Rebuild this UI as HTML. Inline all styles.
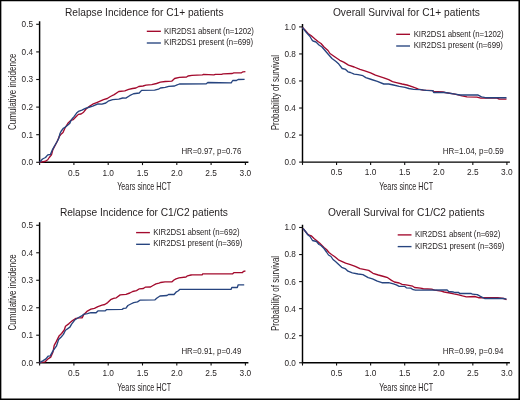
<!DOCTYPE html>
<html><head><meta charset="utf-8"><style>
html,body{margin:0;padding:0;background:#fff;}
svg{display:block;will-change:transform;}
text{font-family:"Liberation Sans",sans-serif;fill:#231f20;stroke:#231f20;stroke-width:0px;}
</style></head><body>
<svg width="520" height="400" viewBox="0 0 520 400">
<rect x="0" y="0" width="520" height="400" fill="#fff"/>
<path d="M39.6,21.3 V162.3 H248.4" fill="none" stroke="#000" stroke-width="1.45"/>
<line x1="36.2" y1="162.3" x2="39.6" y2="162.3" stroke="#111" stroke-width="1.1"/>
<line x1="36.2" y1="134.70" x2="39.6" y2="134.70" stroke="#111" stroke-width="1.1"/>
<line x1="36.2" y1="107.10" x2="39.6" y2="107.10" stroke="#111" stroke-width="1.1"/>
<line x1="36.2" y1="79.5" x2="39.6" y2="79.5" stroke="#111" stroke-width="1.1"/>
<line x1="36.2" y1="51.90" x2="39.6" y2="51.90" stroke="#111" stroke-width="1.1"/>
<line x1="36.2" y1="24.30" x2="39.6" y2="24.30" stroke="#111" stroke-width="1.1"/>
<line x1="39.6" y1="162.3" x2="39.6" y2="165.10" stroke="#111" stroke-width="1.1"/>
<line x1="73.9" y1="162.3" x2="73.9" y2="165.10" stroke="#111" stroke-width="1.1"/>
<line x1="108.20" y1="162.3" x2="108.20" y2="165.10" stroke="#111" stroke-width="1.1"/>
<line x1="142.5" y1="162.3" x2="142.5" y2="165.10" stroke="#111" stroke-width="1.1"/>
<line x1="176.8" y1="162.3" x2="176.8" y2="165.10" stroke="#111" stroke-width="1.1"/>
<line x1="211.10" y1="162.3" x2="211.10" y2="165.10" stroke="#111" stroke-width="1.1"/>
<line x1="245.4" y1="162.3" x2="245.4" y2="165.10" stroke="#111" stroke-width="1.1"/>
<text x="33.0" y="165.20" text-anchor="end" font-size="8.2">0.0</text>
<text x="33.0" y="137.60" text-anchor="end" font-size="8.2">0.1</text>
<text x="33.0" y="110.00" text-anchor="end" font-size="8.2">0.2</text>
<text x="33.0" y="82.4" text-anchor="end" font-size="8.2">0.3</text>
<text x="33.0" y="54.80" text-anchor="end" font-size="8.2">0.4</text>
<text x="33.0" y="27.20" text-anchor="end" font-size="8.2">0.5</text>
<text x="73.9" y="175.60" text-anchor="middle" font-size="9.3" textLength="11.6" lengthAdjust="spacingAndGlyphs">0.5</text>
<text x="108.20" y="175.60" text-anchor="middle" font-size="9.3" textLength="11.6" lengthAdjust="spacingAndGlyphs">1.0</text>
<text x="142.5" y="175.60" text-anchor="middle" font-size="9.3" textLength="11.6" lengthAdjust="spacingAndGlyphs">1.5</text>
<text x="176.8" y="175.60" text-anchor="middle" font-size="9.3" textLength="11.6" lengthAdjust="spacingAndGlyphs">2.0</text>
<text x="211.10" y="175.60" text-anchor="middle" font-size="9.3" textLength="11.6" lengthAdjust="spacingAndGlyphs">2.5</text>
<text x="245.4" y="175.60" text-anchor="middle" font-size="9.3" textLength="11.6" lengthAdjust="spacingAndGlyphs">3.0</text>
<path d="M302.5,24.0 V162.1 H509.9" fill="none" stroke="#000" stroke-width="1.45"/>
<line x1="299.1" y1="162.1" x2="302.5" y2="162.1" stroke="#111" stroke-width="1.1"/>
<line x1="299.1" y1="135.06" x2="302.5" y2="135.06" stroke="#111" stroke-width="1.1"/>
<line x1="299.1" y1="108.02" x2="302.5" y2="108.02" stroke="#111" stroke-width="1.1"/>
<line x1="299.1" y1="80.97" x2="302.5" y2="80.97" stroke="#111" stroke-width="1.1"/>
<line x1="299.1" y1="53.94" x2="302.5" y2="53.94" stroke="#111" stroke-width="1.1"/>
<line x1="299.1" y1="26.90" x2="302.5" y2="26.90" stroke="#111" stroke-width="1.1"/>
<line x1="302.5" y1="162.1" x2="302.5" y2="164.9" stroke="#111" stroke-width="1.1"/>
<line x1="336.56" y1="162.1" x2="336.56" y2="164.9" stroke="#111" stroke-width="1.1"/>
<line x1="370.63" y1="162.1" x2="370.63" y2="164.9" stroke="#111" stroke-width="1.1"/>
<line x1="404.7" y1="162.1" x2="404.7" y2="164.9" stroke="#111" stroke-width="1.1"/>
<line x1="438.76" y1="162.1" x2="438.76" y2="164.9" stroke="#111" stroke-width="1.1"/>
<line x1="472.83" y1="162.1" x2="472.83" y2="164.9" stroke="#111" stroke-width="1.1"/>
<line x1="506.9" y1="162.1" x2="506.9" y2="164.9" stroke="#111" stroke-width="1.1"/>
<text x="295.9" y="165.0" text-anchor="end" font-size="8.2">0.0</text>
<text x="295.9" y="137.96" text-anchor="end" font-size="8.2">0.2</text>
<text x="295.9" y="110.92" text-anchor="end" font-size="8.2">0.4</text>
<text x="295.9" y="83.88" text-anchor="end" font-size="8.2">0.6</text>
<text x="295.9" y="56.83" text-anchor="end" font-size="8.2">0.8</text>
<text x="295.9" y="29.80" text-anchor="end" font-size="8.2">1.0</text>
<text x="336.56" y="175.0" text-anchor="middle" font-size="9.3" textLength="11.6" lengthAdjust="spacingAndGlyphs">0.5</text>
<text x="370.63" y="175.0" text-anchor="middle" font-size="9.3" textLength="11.6" lengthAdjust="spacingAndGlyphs">1.0</text>
<text x="404.7" y="175.0" text-anchor="middle" font-size="9.3" textLength="11.6" lengthAdjust="spacingAndGlyphs">1.5</text>
<text x="438.76" y="175.0" text-anchor="middle" font-size="9.3" textLength="11.6" lengthAdjust="spacingAndGlyphs">2.0</text>
<text x="472.83" y="175.0" text-anchor="middle" font-size="9.3" textLength="11.6" lengthAdjust="spacingAndGlyphs">2.5</text>
<text x="506.9" y="175.0" text-anchor="middle" font-size="9.3" textLength="11.6" lengthAdjust="spacingAndGlyphs">3.0</text>
<path d="M39.6,222.3 V362.7 H248.4" fill="none" stroke="#000" stroke-width="1.45"/>
<line x1="36.2" y1="362.7" x2="39.6" y2="362.7" stroke="#111" stroke-width="1.1"/>
<line x1="36.2" y1="335.21" x2="39.6" y2="335.21" stroke="#111" stroke-width="1.1"/>
<line x1="36.2" y1="307.74" x2="39.6" y2="307.74" stroke="#111" stroke-width="1.1"/>
<line x1="36.2" y1="280.26" x2="39.6" y2="280.26" stroke="#111" stroke-width="1.1"/>
<line x1="36.2" y1="252.78" x2="39.6" y2="252.78" stroke="#111" stroke-width="1.1"/>
<line x1="36.2" y1="225.3" x2="39.6" y2="225.3" stroke="#111" stroke-width="1.1"/>
<line x1="39.6" y1="362.7" x2="39.6" y2="365.5" stroke="#111" stroke-width="1.1"/>
<line x1="73.9" y1="362.7" x2="73.9" y2="365.5" stroke="#111" stroke-width="1.1"/>
<line x1="108.20" y1="362.7" x2="108.20" y2="365.5" stroke="#111" stroke-width="1.1"/>
<line x1="142.5" y1="362.7" x2="142.5" y2="365.5" stroke="#111" stroke-width="1.1"/>
<line x1="176.8" y1="362.7" x2="176.8" y2="365.5" stroke="#111" stroke-width="1.1"/>
<line x1="211.10" y1="362.7" x2="211.10" y2="365.5" stroke="#111" stroke-width="1.1"/>
<line x1="245.4" y1="362.7" x2="245.4" y2="365.5" stroke="#111" stroke-width="1.1"/>
<text x="33.0" y="365.59" text-anchor="end" font-size="8.2">0.0</text>
<text x="33.0" y="338.11" text-anchor="end" font-size="8.2">0.1</text>
<text x="33.0" y="310.64" text-anchor="end" font-size="8.2">0.2</text>
<text x="33.0" y="283.15" text-anchor="end" font-size="8.2">0.3</text>
<text x="33.0" y="255.68" text-anchor="end" font-size="8.2">0.4</text>
<text x="33.0" y="228.20" text-anchor="end" font-size="8.2">0.5</text>
<text x="73.9" y="376.0" text-anchor="middle" font-size="9.3" textLength="11.6" lengthAdjust="spacingAndGlyphs">0.5</text>
<text x="108.20" y="376.0" text-anchor="middle" font-size="9.3" textLength="11.6" lengthAdjust="spacingAndGlyphs">1.0</text>
<text x="142.5" y="376.0" text-anchor="middle" font-size="9.3" textLength="11.6" lengthAdjust="spacingAndGlyphs">1.5</text>
<text x="176.8" y="376.0" text-anchor="middle" font-size="9.3" textLength="11.6" lengthAdjust="spacingAndGlyphs">2.0</text>
<text x="211.10" y="376.0" text-anchor="middle" font-size="9.3" textLength="11.6" lengthAdjust="spacingAndGlyphs">2.5</text>
<text x="245.4" y="376.0" text-anchor="middle" font-size="9.3" textLength="11.6" lengthAdjust="spacingAndGlyphs">3.0</text>
<path d="M302.5,224.75 V362.75 H509.9" fill="none" stroke="#000" stroke-width="1.45"/>
<line x1="299.1" y1="362.75" x2="302.5" y2="362.75" stroke="#111" stroke-width="1.1"/>
<line x1="299.1" y1="335.7" x2="302.5" y2="335.7" stroke="#111" stroke-width="1.1"/>
<line x1="299.1" y1="308.65" x2="302.5" y2="308.65" stroke="#111" stroke-width="1.1"/>
<line x1="299.1" y1="281.6" x2="302.5" y2="281.6" stroke="#111" stroke-width="1.1"/>
<line x1="299.1" y1="254.55" x2="302.5" y2="254.55" stroke="#111" stroke-width="1.1"/>
<line x1="299.1" y1="227.5" x2="302.5" y2="227.5" stroke="#111" stroke-width="1.1"/>
<line x1="302.5" y1="362.75" x2="302.5" y2="365.55" stroke="#111" stroke-width="1.1"/>
<line x1="336.56" y1="362.75" x2="336.56" y2="365.55" stroke="#111" stroke-width="1.1"/>
<line x1="370.63" y1="362.75" x2="370.63" y2="365.55" stroke="#111" stroke-width="1.1"/>
<line x1="404.7" y1="362.75" x2="404.7" y2="365.55" stroke="#111" stroke-width="1.1"/>
<line x1="438.76" y1="362.75" x2="438.76" y2="365.55" stroke="#111" stroke-width="1.1"/>
<line x1="472.83" y1="362.75" x2="472.83" y2="365.55" stroke="#111" stroke-width="1.1"/>
<line x1="506.9" y1="362.75" x2="506.9" y2="365.55" stroke="#111" stroke-width="1.1"/>
<text x="295.9" y="365.65" text-anchor="end" font-size="8.2">0.0</text>
<text x="295.9" y="338.59" text-anchor="end" font-size="8.2">0.2</text>
<text x="295.9" y="311.54" text-anchor="end" font-size="8.2">0.4</text>
<text x="295.9" y="284.5" text-anchor="end" font-size="8.2">0.6</text>
<text x="295.9" y="257.45" text-anchor="end" font-size="8.2">0.8</text>
<text x="295.9" y="230.4" text-anchor="end" font-size="8.2">1.0</text>
<text x="336.56" y="375.65" text-anchor="middle" font-size="9.3" textLength="11.6" lengthAdjust="spacingAndGlyphs">0.5</text>
<text x="370.63" y="375.65" text-anchor="middle" font-size="9.3" textLength="11.6" lengthAdjust="spacingAndGlyphs">1.0</text>
<text x="404.7" y="375.65" text-anchor="middle" font-size="9.3" textLength="11.6" lengthAdjust="spacingAndGlyphs">1.5</text>
<text x="438.76" y="375.65" text-anchor="middle" font-size="9.3" textLength="11.6" lengthAdjust="spacingAndGlyphs">2.0</text>
<text x="472.83" y="375.65" text-anchor="middle" font-size="9.3" textLength="11.6" lengthAdjust="spacingAndGlyphs">2.5</text>
<text x="506.9" y="375.65" text-anchor="middle" font-size="9.3" textLength="11.6" lengthAdjust="spacingAndGlyphs">3.0</text>
<text x="65.0" y="15.6" font-size="10.2" text-anchor="start" textLength="158.5" lengthAdjust="spacing">Relapse Incidence for C1+ patients</text>
<text x="332.9" y="15.6" font-size="10.2" text-anchor="start" textLength="147" lengthAdjust="spacing">Overall Survival for C1+ patients</text>
<text x="59.9" y="216.2" font-size="10.2" text-anchor="start" textLength="168" lengthAdjust="spacing">Relapse Incidence for C1/C2 patients</text>
<text x="328.1" y="216.4" font-size="10.2" text-anchor="start" textLength="156.5" lengthAdjust="spacing">Overall Survival for C1/C2 patients</text>
<line x1="146.8" y1="31.3" x2="160.9" y2="31.3" stroke="#a30a2d" stroke-width="1.35"/>
<line x1="146.8" y1="43.0" x2="160.9" y2="43.0" stroke="#26447f" stroke-width="1.35"/>
<text transform="translate(164.0,33.9) scale(1,1.12)" x="0" y="0" font-size="7.85" text-anchor="start" textLength="90" lengthAdjust="spacing">KIR2DS1 absent (n=1202)</text>
<text transform="translate(164.0,45.4) scale(1,1.12)" x="0" y="0" font-size="7.85" text-anchor="start" textLength="89.2" lengthAdjust="spacing">KIR2DS1 present (n=699)</text>
<line x1="396.2" y1="34.3" x2="410.0" y2="34.3" stroke="#a30a2d" stroke-width="1.35"/>
<line x1="396.2" y1="46.0" x2="410.0" y2="46.0" stroke="#26447f" stroke-width="1.35"/>
<text transform="translate(413.7,36.9) scale(1,1.12)" x="0" y="0" font-size="7.85" text-anchor="start" textLength="90" lengthAdjust="spacing">KIR2DS1 absent (n=1202)</text>
<text transform="translate(413.7,48.4) scale(1,1.12)" x="0" y="0" font-size="7.85" text-anchor="start" textLength="89.2" lengthAdjust="spacing">KIR2DS1 present (n=699)</text>
<line x1="136.1" y1="232.6" x2="149.9" y2="232.6" stroke="#a30a2d" stroke-width="1.35"/>
<line x1="136.1" y1="244.3" x2="149.9" y2="244.3" stroke="#26447f" stroke-width="1.35"/>
<text transform="translate(153.3,234.9) scale(1,1.12)" x="0" y="0" font-size="7.85" text-anchor="start" textLength="86.3" lengthAdjust="spacing">KIR2DS1 absent (n=692)</text>
<text transform="translate(153.3,246.4) scale(1,1.12)" x="0" y="0" font-size="7.85" text-anchor="start" textLength="89" lengthAdjust="spacing">KIR2DS1 present (n=369)</text>
<line x1="397.7" y1="234.9" x2="411.5" y2="234.9" stroke="#a30a2d" stroke-width="1.35"/>
<line x1="397.7" y1="246.6" x2="411.5" y2="246.6" stroke="#26447f" stroke-width="1.35"/>
<text transform="translate(414.9,237.3) scale(1,1.12)" x="0" y="0" font-size="7.85" text-anchor="start" textLength="85.6" lengthAdjust="spacing">KIR2DS1 absent (n=692)</text>
<text transform="translate(414.9,248.8) scale(1,1.12)" x="0" y="0" font-size="7.85" text-anchor="start" textLength="89.5" lengthAdjust="spacing">KIR2DS1 present (n=369)</text>
<text x="181.4" y="153.8" font-size="8.8" text-anchor="start" textLength="60" lengthAdjust="spacingAndGlyphs">HR=0.97, p=0.76</text>
<text x="442.8" y="153.8" font-size="8.8" text-anchor="start" textLength="61" lengthAdjust="spacingAndGlyphs">HR=1.04, p=0.59</text>
<text x="181.4" y="354.2" font-size="8.8" text-anchor="start" textLength="60" lengthAdjust="spacingAndGlyphs">HR=0.91, p=0.49</text>
<text x="442.8" y="354.2" font-size="8.8" text-anchor="start" textLength="60.7" lengthAdjust="spacingAndGlyphs">HR=0.99, p=0.94</text>
<text x="117.2" y="189.7" font-size="10.2" text-anchor="start" textLength="54" lengthAdjust="spacingAndGlyphs">Years since HCT</text>
<text x="379.2" y="189.7" font-size="10.2" text-anchor="start" textLength="54" lengthAdjust="spacingAndGlyphs">Years since HCT</text>
<text x="117.2" y="390.6" font-size="10.2" text-anchor="start" textLength="54" lengthAdjust="spacingAndGlyphs">Years since HCT</text>
<text x="379.2" y="390.6" font-size="10.2" text-anchor="start" textLength="54" lengthAdjust="spacingAndGlyphs">Years since HCT</text>
<text transform="translate(16.3,130.1) rotate(-90)" x="0" y="0" font-size="10.8" textLength="76.5" lengthAdjust="spacingAndGlyphs">Cumulative incidence</text>
<text transform="translate(16.3,330.5) rotate(-90)" x="0" y="0" font-size="10.8" textLength="76.1" lengthAdjust="spacingAndGlyphs">Cumulative incidence</text>
<text transform="translate(278.9,130.3) rotate(-90)" x="0" y="0" font-size="10.8" textLength="75.20" lengthAdjust="spacingAndGlyphs">Probability of survival</text>
<text transform="translate(278.9,331) rotate(-90)" x="0" y="0" font-size="10.8" textLength="75.1" lengthAdjust="spacingAndGlyphs">Probability of survival</text>
<polyline points="39.6,162.3 45.5,161.25 47.75,159.75 49.25,157.5 51.5,154.9 52.9,149.6 55.5,144.75 57.75,140.25 59.25,136.5 60.75,134.6 63,132.5 65.25,127.5 67.9,123.3 70.5,120.6 73.1,119.7 75.75,117.1 78.4,114.4 81,114 83.6,112.2 86.25,108.75 89.75,106.1 92.7,104.2 97.3,102.3 103.5,99.6 107.3,98.5 110.4,96.5 114.2,94.6 118.8,91.5 124.8,90.9 128.7,89.4 132.5,88.5 135.9,88 138.75,86.5 143,86 146,85.1 151.7,84.6 156.5,83.5 160.4,82.2 165.2,81.5 171.7,81.2 174.6,78.5 179.4,77.3 186.6,77 188,76 191.9,75.4 202.5,74.9 203.5,74.4 213.8,74.9 215.4,74.3 221.5,74.3 223.1,73.8 232.3,73.5 233.8,72.8 241.5,72.8 243,71.8 245.4,71.6" fill="none" stroke="#a30a2d" stroke-width="1.35" stroke-linejoin="round" stroke-linecap="butt"/>
<polyline points="39.6,162.3 42.5,159 45.5,157.5 47.75,154.9 50.4,154.5 52.5,149.6 54.75,145.5 57,141.75 58.9,138 60,133.5 61.1,131.25 63.4,128.25 65.25,127.1 67,125.8 69.6,123.6 71.4,119.7 74,116.6 76.6,113.1 78.4,111.4 81.9,110.1 85.4,108.3 89.75,107 92.7,106.2 98,103.8 101.9,104.2 105.8,103 108.8,100.8 112.7,99.6 118.8,99.2 122.7,98 125.8,98.1 129.6,95.7 133.5,93.75 139.2,93 141.6,90.4 154.6,90.2 158.5,89.2 160.4,88 165.2,87.3 168.8,86.3 174.6,86 176.5,85.2 179.4,84 206.3,83.75 207.8,82.5 231.2,82.8 232.7,80.5 236.5,80.5 238.1,79.5 244.6,79.3" fill="none" stroke="#26447f" stroke-width="1.35" stroke-linejoin="round" stroke-linecap="butt"/>
<polyline points="302.5,27.5 305,30 308,33.5 311,35.5 315,39 318,41.5 321,43.5 324,47 328,50.5 330,53.5 335,57 339.8,60.3 343.7,62.2 348.5,65.1 354.2,67 360,69.4 364.8,70.9 370.6,72.8 375.4,75.2 383.8,77.8 388.7,79.7 392.5,81.6 396.3,82.6 402.1,84 406.9,85 412.7,86.9 418.5,89.1 423.3,90.1 432.7,90.6 433.7,91.5 443,92 445,92.5 455,94.2 462,95.9 467,96.8 476.9,97.2 480.8,98.1 496.9,98.2 499.2,99 506.5,99.2" fill="none" stroke="#a30a2d" stroke-width="1.35" stroke-linejoin="round" stroke-linecap="butt"/>
<polyline points="302.5,27.5 306,32 310,36.5 312,40 313,41 316,42 319,45 322,47 325,50.5 328,54 332,58.5 336,61.5 338.8,64.1 342.2,68.5 345.6,69.4 348,71.8 350.4,72.5 354.2,74.2 358,74.7 362.9,75.7 365.8,77.6 371.5,79.5 377.3,81.4 383.8,84 388.7,84 393.5,85 399.2,86.4 405,87.4 408.8,88.5 413.7,89.3 420.4,89.6 426.2,90.3 432.7,90.6 433.7,92.5 445,92.5 455,94.2 460,95 477.7,94.8 481.5,96.9 485.4,97.7 506.5,97.7" fill="none" stroke="#26447f" stroke-width="1.35" stroke-linejoin="round" stroke-linecap="butt"/>
<polyline points="39.6,362.7 45,361.9 47.6,359.3 50.7,357.1 52.9,352.3 54.2,345.3 56.4,341.4 59,336.1 61.6,333.5 64.25,330 65.5,326.2 69,323.6 72.5,320.6 76,318.4 79.5,317.9 82.1,317.9 83.9,314.4 86.9,311.4 90.9,309.2 94.4,308.3 97.9,306.6 102,305.2 104.8,304.5 107.7,302.6 110.6,299.7 113.5,298.3 116.3,297.8 120.2,294.9 126,294.4 129.8,293 132.7,291.5 136.5,290.6 139.4,288.8 143.3,288.5 145.2,287.2 150.5,287 153,285.5 156,283.8 159,283.2 160.5,282.5 165,281.8 172,281.8 174,280 176,278.8 179,277.8 186,277 187.5,275.8 191,275 192.3,274.8 202.1,274.8 202.7,273.8 232.7,273.8 233.8,272.7 242.5,272.5 243.6,271.3 245.4,271" fill="none" stroke="#a30a2d" stroke-width="1.35" stroke-linejoin="round" stroke-linecap="butt"/>
<polyline points="39.6,362.7 43.2,360.6 45.9,358.9 48.1,356.2 50.25,355.8 52.4,351.9 54.2,349.2 56.4,346.2 58.6,339.6 61.2,337 63.4,334.4 65.5,330.2 69.9,327.1 71.6,324.1 75.1,319.7 78.6,317.5 81.2,316.2 83.4,314.4 87.4,313.6 90.9,312.7 96.1,312.7 97.9,310.9 105.3,310.8 106.7,309.6 122.1,309.3 123.6,308.4 126,308.2 127.9,305.5 130.8,304 133.7,302.6 137.5,301.9 139.9,300.2 155,299.8 157,298 160,296 167,295.5 168.5,294.5 174,294.5 176,292.2 178,291 180,289.3 231,289.4 231.8,287.5 237.3,287.5 238.2,284.8 244.2,284.8" fill="none" stroke="#26447f" stroke-width="1.35" stroke-linejoin="round" stroke-linecap="butt"/>
<polyline points="303,228.5 305,231 307.5,234 310,235.5 311.5,236 314,238.5 316.5,240.5 319.5,243 321.5,245 324,247.5 326.5,249.5 329,252.5 331.5,254.5 334.5,256.5 338.4,259.8 341.7,261.3 345.6,263.2 350.4,264.6 355.2,266.3 360,268.7 363.8,269.4 368.7,270.4 373,273.3 378.3,275 383.8,276.5 387.7,277.7 391.5,280.4 394.4,282 399.2,283 402.1,284.4 406,284.9 408.8,285.4 412.7,286.2 414.6,287.5 420.4,288.1 423.3,288.75 431.7,289.1 434.6,290.1 441.3,291.1 444.2,292 450,293 453.8,293.9 458.7,294.9 462.5,295.9 466.3,296.8 474.6,296.5 478.5,297.7 497.7,297.7 503.8,298.5 506.5,299.6" fill="none" stroke="#a30a2d" stroke-width="1.35" stroke-linejoin="round" stroke-linecap="butt"/>
<polyline points="303,228.5 305.5,231.5 308,235 310,236.5 312.5,240.5 314.5,241 316.5,241.5 319,244.5 321,245.5 324,248.5 326.5,252 328.5,255 331,256.5 333,259.5 335.5,261.5 337.9,263.7 341.7,267.3 345.6,268.9 348,271.2 352.3,272.8 358.1,274 362.9,274.7 368.2,277.6 372.5,278.8 377.3,281.2 381.9,282.7 388.7,282.7 393.5,283.9 396.3,284.9 399.2,286.3 404.5,286.3 406.4,287.8 410.8,288.1 413.2,289.7 415.6,290.2 447.1,289.9 448.6,291.5 453.4,292 454.3,292.5 458.7,292.5 459.6,293.5 471.2,293.5 472.3,294.2 477.3,294.6 480,296.2 482.3,297.3 484.6,298.5 503.1,298.5 506.5,299.1" fill="none" stroke="#26447f" stroke-width="1.35" stroke-linejoin="round" stroke-linecap="butt"/>
<rect x="0" y="0" width="1.35" height="400" fill="#000"/><rect x="0" y="0" width="520" height="1.25" fill="#000"/><rect x="518.45" y="0" width="1.55" height="400" fill="#000"/><rect x="0" y="398.5" width="520" height="1.5" fill="#000"/>
</svg>
</body></html>
